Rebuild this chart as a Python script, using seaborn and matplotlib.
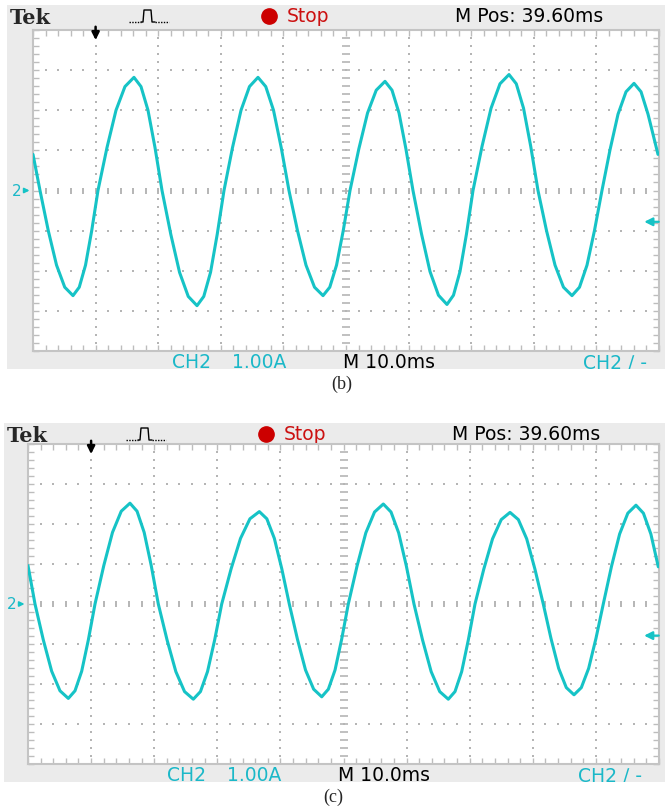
import numpy as np
import matplotlib
matplotlib.use("Agg")
import matplotlib.pyplot as plt
import seaborn as sns

# trace values (10 ms/div, 1.00 A/div)
time_b = [0.0, 1.12, 2.44, 3.76, 5.07, 6.39, 7.39, 8.39, 9.38, 10.38, 11.82, 13.26, 14.69, 16.13,
          17.25, 18.37, 19.49, 20.61, 22.01, 23.41, 24.80, 26.20, 27.28, 28.36, 29.43, 30.51,
          31.87, 33.23, 34.58, 35.94, 37.18, 38.42, 39.65, 40.89, 42.25, 43.61, 44.97, 46.33,
          47.41, 48.49, 49.56, 50.64, 52.04, 53.44, 54.83, 56.23, 57.35, 58.47, 59.58, 60.70,
          62.06, 63.42, 64.77, 66.13, 67.17, 68.21, 69.25, 70.29, 71.73, 73.17, 74.60, 76.04,
          77.20, 78.36, 79.51, 80.67, 82.03, 83.39, 84.74, 86.10, 87.30, 88.50, 89.69, 90.89,
          92.17, 93.45, 94.73, 96.01, 97.13, 98.25, 99.84]
current_b = [0.90, 0.0, -1.00, -1.86, -2.41, -2.62, -2.41, -1.86, -1.00, 0.0, 1.07, 2.00, 2.59, 2.82,
             2.59, 2.00, 1.07, 0.0, -1.09, -2.04, -2.64, -2.87, -2.64, -2.04, -1.09, 0.0,
             1.07, 2.00, 2.59, 2.82, 2.59, 2.00, 1.07, 0.0, -1.00, -1.86, -2.41, -2.62,
             -2.41, -1.86, -1.00, 0.0, 1.03, 1.93, 2.50, 2.72, 2.50, 1.93, 1.03, 0.0,
             -1.08, -2.02, -2.61, -2.84, -2.61, -2.02, -1.08, 0.0, 1.10, 2.05, 2.66, 2.89,
             2.66, 2.05, 1.10, 0.0, -1.00, -1.86, -2.41, -2.62, -2.41, -1.86, -1.00, 0.0,
             1.01, 1.90, 2.46, 2.67, 2.46, 1.90, 0.90]

time_c = [0.0, 1.11, 2.43, 3.75, 5.07, 6.39, 7.45, 8.51, 9.56, 10.62, 12.01, 13.39, 14.78, 16.16,
          17.28, 18.41, 19.53, 20.65, 22.04, 23.43, 24.81, 26.20, 27.33, 28.45, 29.58, 30.70,
          32.19, 33.68, 35.17, 36.66, 37.85, 39.04, 40.22, 41.41, 42.70, 43.98, 45.27, 46.55,
          47.60, 48.66, 49.71, 50.76, 52.15, 53.54, 54.92, 56.31, 57.53, 58.74, 59.96, 61.17,
          62.53, 63.89, 65.25, 66.61, 67.67, 68.73, 69.78, 70.84, 72.23, 73.62, 75.00, 76.39,
          77.71, 79.03, 80.34, 81.66, 82.88, 84.10, 85.31, 86.53, 87.69, 88.85, 90.01, 91.17,
          92.47, 93.76, 95.06, 96.35, 97.53, 98.71, 99.89]
current_c = [0.96, 0.0, -0.90, -1.68, -2.17, -2.36, -2.17, -1.68, -0.90, 0.0, 0.96, 1.79, 2.32, 2.52,
             2.32, 1.79, 0.96, 0.0, -0.90, -1.69, -2.19, -2.38, -2.19, -1.69, -0.90, 0.0,
             0.88, 1.64, 2.13, 2.31, 2.13, 1.64, 0.88, 0.0, -0.88, -1.65, -2.13, -2.32,
             -2.13, -1.65, -0.88, 0.0, 0.95, 1.78, 2.30, 2.50, 2.30, 1.78, 0.95, 0.0,
             -0.90, -1.69, -2.19, -2.38, -2.19, -1.69, -0.90, 0.0, 0.87, 1.63, 2.11, 2.29,
             2.11, 1.63, 0.87, 0.0, -0.86, -1.61, -2.09, -2.27, -2.09, -1.61, -0.86, 0.0,
             0.94, 1.75, 2.27, 2.47, 2.27, 1.75, 0.93]

trigger_level = [-0.78, -0.79]
captions = ["(b)", "(c)"]
mpos_label = "M Pos: 39.60ms"
volts_label = "1.00A"
time_label = "M 10.0ms"

W, H = 665, 812
TRACE = "#16c3c6"
CYAN_TXT = "#1bb8c8"
GRID = "#b5b5b5"
BG = "#ebebeb"
FS = 13.5

sns.set_style("white")
plt.rcParams["font.family"] = ["DejaVu Sans"]

fig = plt.figure(figsize=(W / 100, H / 100), dpi=100)


def px_axes(x0, y0, x1, y1):
    return fig.add_axes([x0 / W, 1 - y1 / H, (x1 - x0) / W, (y1 - y0) / H])


def draw_scope(bg_box, grid_box, t, cur, trig, caption, cap_x, cap_y):
    bx0, by0, bx1, by1 = bg_box
    gx0, gy0, gx1, gy1 = grid_box

    # grey screen frame, data coords = image pixels
    bg = px_axes(*bg_box)
    bg.set_xlim(bx0, bx1)
    bg.set_ylim(by1, by0)
    bg.set_facecolor(BG)
    bg.set_xticks([])
    bg.set_yticks([])
    for s in bg.spines.values():
        s.set_visible(False)

    ty = by0 + 11
    bg.text(bx0 + 3, ty + 1, "Tek", fontsize=15, fontweight="bold", family="DejaVu Serif",
            va="center", ha="left")
    # little trigger-type icon
    px = bx0 + 122
    bg.plot([px, px + 12], [ty + 6, ty + 6], color="black", lw=1.0, ls=(0, (1, 1)))
    bg.plot([px + 12, px + 14, px + 15, px + 22, px + 23, px + 26],
            [ty + 6, ty + 6, ty - 6, ty - 6, ty + 6, ty + 6], color="black", lw=1.0)
    bg.plot([px + 26, px + 40], [ty + 6, ty + 6], color="black", lw=1.0, ls=(0, (1, 1)))
    bg.plot([bx0 + 262], [ty], marker="o", ms=11, color="#cc0000", ls="none")
    bg.text(bx0 + 280, ty, "Stop", fontsize=FS, color="#cc1111", va="center", ha="left")
    bg.text(bx0 + 448, ty, mpos_label, fontsize=FS, color="black", va="center", ha="left")

    ly = gy1 + 11
    bg.text(gx0 + 139, ly, "CH2", fontsize=FS, color=CYAN_TXT, va="center", ha="left", clip_on=True)
    bg.text(gx0 + 199, ly, volts_label, fontsize=FS, color=CYAN_TXT, va="center", ha="left", clip_on=True)
    bg.text(gx0 + 310, ly, time_label, fontsize=FS, color="black", va="center", ha="left", clip_on=True)
    bg.text(gx0 + 550, ly, "CH2 \u2215 -", fontsize=FS, color=CYAN_TXT, va="center", ha="left", clip_on=True)

    # graticule
    ax = px_axes(*grid_box)
    ax.set_facecolor("white")
    ax.set_xlim(0, 100)
    ax.set_ylim(-4, 4)
    dot_y = np.arange(-4, 4.01, 0.2)
    dot_x = np.arange(0, 100.1, 2)
    for gx in range(10, 100, 10):
        if gx == 50:
            continue
        ax.plot(np.full_like(dot_y, gx), dot_y, ls="none", marker="s", ms=1.6, mew=0, color=GRID)
    for gy in [-3, -2, -1, 1, 2, 3]:
        ax.plot(dot_x, np.full_like(dot_x, gy), ls="none", marker="s", ms=1.6, mew=0, color=GRID)
    ax.plot(np.full_like(dot_y, 50), dot_y, ls="none", marker="_", ms=6, mew=1.2, color=GRID)
    ax.plot(dot_x, np.zeros_like(dot_x), ls="none", marker="|", ms=4.5, mew=1.4, color=GRID)

    ax.set_xticks(dot_x)
    ax.set_yticks(dot_y)
    ax.tick_params(direction="in", length=4, width=1, color="#bdbdbd",
                   top=True, right=True, bottom=True, left=True,
                   labelbottom=False, labelleft=False)
    for s in ax.spines.values():
        s.set_color("#c4c4c4")
        s.set_linewidth(1.5)

    sns.lineplot(x=t, y=cur, ax=ax, color=TRACE, lw=2.2, estimator=None, sort=False, zorder=5)
    ax.set_xlabel("")
    ax.set_ylabel("")

    # trigger position, trigger level and ch2 ground markers
    ax.annotate("", xy=(10, 3.68), xytext=(10, 4.15),
                arrowprops=dict(arrowstyle="-|>", color="black", lw=1.8, mutation_scale=11),
                annotation_clip=False)
    ax.annotate("", xy=(97.2, trig), xytext=(100.4, trig),
                arrowprops=dict(arrowstyle="-|>", color=TRACE, lw=1.6, mutation_scale=12),
                annotation_clip=False)
    ax.annotate("", xy=(-0.1, 0), xytext=(-1.7, 0),
                arrowprops=dict(arrowstyle="-|>", color=TRACE, lw=1.3, mutation_scale=7),
                annotation_clip=False)
    bg.text(gx0 - 21, (gy0 + gy1) / 2, "2", fontsize=11, color=CYAN_TXT, va="center", ha="left")

    fig.text(cap_x / W, 1 - cap_y / H, caption, fontsize=13, family="Liberation Serif",
             ha="center", va="center")


draw_scope((7, 6, 665, 370), (33, 31, 659, 352), time_b, current_b, trigger_level[0],
           captions[0], 342, 384)
draw_scope((4, 424, 665, 783), (28, 445, 659, 765), time_c, current_c, trigger_level[1],
           captions[1], 333, 797)

fig.savefig("out.png", dpi=100, facecolor="white")
